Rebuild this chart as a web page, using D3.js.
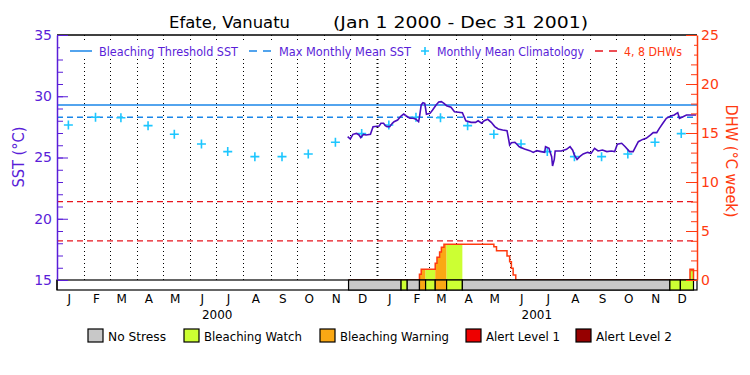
<!DOCTYPE html>
<html>
<head>
<meta charset="utf-8">
<script src="https://cdn.jsdelivr.net/npm/d3@7"></script>
<style>
  body { margin: 0; background: #fff; }
  svg { display: block; }
</style>
</head>
<body>
<svg width="750" height="375"></svg>
<script>
// ---- data ----
const sstDates = ["2000-11-28","2000-12-01","2000-12-04","2000-12-08","2000-12-11","2000-12-13","2000-12-16","2000-12-19","2000-12-24","2000-12-25","2000-12-27",
  "2001-01-03","2001-01-05","2001-01-08","2001-01-10","2001-01-12","2001-01-15","2001-01-18","2001-01-20","2001-01-24","2001-01-28","2001-01-31",
  "2001-02-03","2001-02-07","2001-02-11","2001-02-14","2001-02-17","2001-02-18","2001-02-20","2001-02-22","2001-02-24","2001-02-25","2001-02-26",
  "2001-03-02","2001-03-05","2001-03-09","2001-03-12","2001-03-15","2001-03-18","2001-03-21","2001-03-26","2001-03-30",
  "2001-04-08","2001-04-12","2001-04-18","2001-04-23","2001-04-26","2001-04-30",
  "2001-05-03","2001-05-07","2001-05-11","2001-05-15","2001-05-19","2001-05-24","2001-05-29","2001-05-31",
  "2001-06-01","2001-06-03","2001-06-07","2001-06-09","2001-06-12","2001-06-18","2001-06-24","2001-06-28",
  "2001-07-02","2001-07-07","2001-07-11","2001-07-12","2001-07-16","2001-07-17","2001-07-19","2001-07-20","2001-07-22","2001-07-23","2001-07-30",
  "2001-08-05","2001-08-09","2001-08-12","2001-08-14","2001-08-17","2001-08-20","2001-08-24","2001-08-29",
  "2001-09-02","2001-09-06","2001-09-10","2001-09-15","2001-09-20","2001-09-25","2001-09-29",
  "2001-10-02","2001-10-07","2001-10-11","2001-10-16","2001-10-20","2001-10-23","2001-10-26","2001-10-31",
  "2001-11-04","2001-11-09","2001-11-12","2001-11-16","2001-11-19","2001-11-23","2001-11-27",
  "2001-12-02","2001-12-06","2001-12-10","2001-12-12","2001-12-16","2001-12-20","2001-12-27","2001-12-31"];
const sstValues = [26.70,26.51,26.89,26.97,26.84,26.62,26.89,26.84,26.89,27.11,27.52,
  27.57,27.79,27.79,27.60,27.52,27.52,27.79,27.92,28.06,28.39,28.55,
  28.39,28.20,28.20,28.12,27.92,28.30,29.29,29.47,29.42,29.00,28.53,
  28.60,28.88,29.29,29.53,29.56,29.42,29.23,29.10,28.74,
  28.66,28.00,27.87,27.87,28.00,27.80,
  28.00,28.12,27.87,27.52,27.33,27.24,27.19,26.43,
  26.02,26.21,26.24,26.10,25.88,25.69,25.56,25.42,
  25.56,25.48,25.42,25.88,25.75,25.48,25.07,24.31,24.85,25.53,25.53,
  25.67,25.88,25.60,25.20,24.85,25.07,25.29,25.42,
  25.34,25.75,25.53,25.61,25.48,25.53,25.48,
  26.08,26.16,25.88,25.48,25.48,25.88,26.29,26.48,
  26.57,26.84,27.03,27.03,27.38,27.79,28.20,
  28.39,28.47,28.66,28.20,28.33,28.47,28.47,28.47];

const climYears = [2000, 2001];
const climValues = [27.65, 28.28, 28.25, 27.60, 26.90, 26.10, 25.48, 25.07, 25.07, 25.29, 26.24, 26.95];

const maxMonthlyMean = 28.28;
const bleachThreshold = 29.28;
const dhwRefLines = [4, 8];

const dhwDates = ["2000-11-29","2001-02-18","2001-02-20","2001-03-08","2001-03-10","2001-03-13","2001-03-15","2001-03-18",
  "2001-05-14","2001-05-17","2001-05-29","2001-06-01","2001-06-03","2001-06-05","2001-06-08","2001-12-24","2001-12-28"];
const dhwValues = [0, 0.58, 1.09, 1.70, 2.31, 2.86, 3.33, 3.64,
  3.40, 2.99, 2.45, 1.87, 1.19, 0.51, 0, 1.1, 0];

const stressStart = ["2000-11-29","2001-01-28","2001-02-04","2001-02-18","2001-02-25","2001-03-08","2001-03-21","2001-04-08","2001-12-01","2001-12-13"];
const stressEnd   = ["2001-01-28","2001-02-04","2001-02-18","2001-02-25","2001-03-08","2001-03-21","2001-04-08","2001-12-01","2001-12-13","2001-12-28"];
const stressLevel = [0, 1, 0, 2, 1, 2, 1, 0, 1, 1];

const stressNames = ["No Stress", "Bleaching Watch", "Bleaching Warning", "Alert Level 1", "Alert Level 2"];
const stressColors = ["#c8c8c8", "#ccff33", "#faa814", "#ee0000", "#960000"];

const monthLetters = ["J","F","M","A","M","J","J","A","S","O","N","D"];
const sstTicks = [15, 20, 25, 30, 35];
const dhwTicks = [0, 5, 10, 15, 20, 25];

(function (d3) {
  'use strict';
  const svg = d3.select('svg');
  const parse = d3.utcParse('%Y-%m-%d');
  const FONT = 'DejaVu Sans, sans-serif';
  const sstColor = '#5a1ed8';
  const dhwColor = '#ff3a10';
  const lineBlue = '#1a86e8';
  const climCyan = '#1cc6ff';

  const left = 57, right = 697, top = 35, base = 280, barBottom = 290;

  const x = d3.scaleUtc()
    .domain([new Date(Date.UTC(2000, 0, 1)), new Date(Date.UTC(2002, 0, 1))])
    .range([left, right]);
  const ySst = d3.scaleLinear().domain([15, 35]).range([base, top]);
  const yDhw = d3.scaleLinear().domain([0, 25]).range([base, top]);

  const sst = sstDates.map((d, i) => ({ date: parse(d), value: sstValues[i] }));
  const dhw = dhwDates.map((d, i) => ({ date: parse(d), value: dhwValues[i] }));
  const stress = stressStart.map((d, i) => ({ start: parse(d), end: parse(stressEnd[i]), level: stressLevel[i] }));
  const clim = [];
  climYears.forEach(yr => climValues.forEach((v, m) => clim.push({ date: new Date(Date.UTC(yr, m, 14)), value: v })));

  // title
  svg.append('text').attr('x', 169).attr('y', 28)
    .attr('font-family', FONT).attr('font-size', 16).attr('textLength', 121).attr('lengthAdjust', 'spacingAndGlyphs')
    .text('Efate, Vanuatu');
  svg.append('text').attr('x', 333).attr('y', 28)
    .attr('font-family', FONT).attr('font-size', 16).attr('textLength', 255).attr('lengthAdjust', 'spacingAndGlyphs')
    .text('(Jan 1 2000 - Dec 31 2001)');

  // month dotted grid
  const monthStarts = x.ticks(d3.utcMonth.every(1)).filter(d => +d > +x.domain()[0] && +d < +x.domain()[1]);
  svg.append('g').selectAll('line').data(monthStarts).enter().append('line')
    .attr('x1', d => Math.round(x(d)) + 0.5).attr('x2', d => Math.round(x(d)) + 0.5)
    .attr('y1', top).attr('y2', base)
    .attr('stroke', '#000')
    .attr('stroke-width', d => d.getUTCMonth() === 0 ? 2 : 1)
    .attr('stroke-dasharray', '1,3');

  // reference lines
  svg.append('line').attr('x1', left).attr('x2', right)
    .attr('y1', ySst(bleachThreshold)).attr('y2', ySst(bleachThreshold))
    .attr('stroke', lineBlue).attr('stroke-width', 1.5);
  svg.append('line').attr('x1', left).attr('x2', right)
    .attr('y1', ySst(maxMonthlyMean)).attr('y2', ySst(maxMonthlyMean))
    .attr('stroke', lineBlue).attr('stroke-width', 1.5).attr('stroke-dasharray', '6,4');
  svg.append('g').selectAll('line').data(dhwRefLines).enter().append('line')
    .attr('x1', left).attr('x2', right)
    .attr('y1', d => yDhw(d)).attr('y2', d => yDhw(d))
    .attr('stroke', '#e8141e').attr('stroke-width', 1.2).attr('stroke-dasharray', '6,4');

  // DHW fill coloured by stress level
  const defs = svg.append('defs');
  const area = d3.area().curve(d3.curveStepAfter)
    .x(d => x(d.date)).y0(yDhw(0)).y1(d => yDhw(d.value));
  stress.filter(s => s.level > 0).forEach((s, i) => {
    const id = 'clip' + i;
    defs.append('clipPath').attr('id', id).append('rect')
      .attr('x', x(s.start)).attr('width', x(s.end) - x(s.start))
      .attr('y', top).attr('height', base - top);
    svg.append('path').datum(dhw)
      .attr('clip-path', `url(#${id})`)
      .attr('d', area)
      .attr('fill', stressColors[s.level]);
  });

  // DHW line
  svg.append('path').datum(dhw)
    .attr('d', d3.line().curve(d3.curveStepAfter).x(d => x(d.date)).y(d => yDhw(d.value)))
    .attr('fill', 'none').attr('stroke', dhwColor).attr('stroke-width', 1.5);

  // climatology crosses
  svg.append('g').selectAll('path').data(clim).enter().append('path')
    .attr('d', d => {
      const cx = x(d.date), cy = ySst(d.value);
      return `M${cx - 4.5},${cy}H${cx + 4.5}M${cx},${cy - 4.5}V${cy + 4.5}`;
    })
    .attr('stroke', climCyan).attr('stroke-width', 1.6);

  // SST line
  svg.append('path').datum(sst)
    .attr('d', d3.line().x(d => x(d.date)).y(d => ySst(d.value)))
    .attr('fill', 'none').attr('stroke', '#4b0cbd').attr('stroke-width', 1.6)
    .attr('stroke-linejoin', 'miter');

  // stress bar
  svg.append('rect').attr('x', left).attr('y', base).attr('width', right - left).attr('height', barBottom - base)
    .attr('fill', '#fff').attr('stroke', '#000').attr('stroke-width', 1.2);
  svg.append('g').selectAll('rect').data(stress).enter().append('rect')
    .attr('x', d => x(d.start)).attr('width', d => x(d.end) - x(d.start))
    .attr('y', base).attr('height', barBottom - base)
    .attr('fill', d => stressColors[d.level])
    .attr('stroke', '#000').attr('stroke-width', 1.2);

  // top frame
  svg.append('line').attr('x1', left).attr('x2', right).attr('y1', top).attr('y2', top)
    .attr('stroke', '#000').attr('stroke-width', 1.5);

  // left axis
  const leftMinor = svg.append('g').attr('transform', `translate(${left},0)`).attr('color', sstColor)
    .call(d3.axisLeft(ySst).ticks(20).tickSizeInner(-6).tickSizeOuter(0).tickFormat(''));
  leftMinor.select('.domain').attr('stroke-width', 1.5);
  const leftMajor = svg.append('g').attr('transform', `translate(${left},0)`).attr('color', sstColor)
    .call(d3.axisLeft(ySst).tickValues(sstTicks).tickSizeInner(-11).tickSizeOuter(0).tickPadding(5));
  leftMajor.select('.domain').remove();
  leftMajor.selectAll('text').attr('font-family', FONT).attr('font-size', 14);
  svg.append('line').attr('x1', left).attr('x2', left).attr('y1', base).attr('y2', barBottom)
    .attr('stroke', '#000').attr('stroke-width', 1.2);

  // right axis
  const rightMinor = svg.append('g').attr('transform', `translate(${right},0)`).attr('color', dhwColor)
    .call(d3.axisRight(yDhw).ticks(25).tickSizeInner(-6).tickSizeOuter(0).tickFormat(''));
  rightMinor.select('.domain').attr('stroke-width', 1.5);
  const rightMajor = svg.append('g').attr('transform', `translate(${right},0)`).attr('color', dhwColor)
    .call(d3.axisRight(yDhw).tickValues(dhwTicks).tickSizeInner(-11).tickSizeOuter(0).tickPadding(4));
  rightMajor.select('.domain').remove();
  rightMajor.selectAll('text').attr('font-family', FONT).attr('font-size', 14);

  // axis titles
  svg.append('text').attr('transform', 'translate(24,157) rotate(-90)')
    .attr('text-anchor', 'middle').attr('font-family', FONT).attr('font-size', 15)
    .attr('fill', sstColor).attr('textLength', 61).attr('lengthAdjust', 'spacingAndGlyphs')
    .text('SST (°C)');
  svg.append('text').attr('transform', 'translate(726,161) rotate(90)')
    .attr('text-anchor', 'middle').attr('font-family', FONT).attr('font-size', 15)
    .attr('fill', dhwColor).attr('textLength', 113).attr('lengthAdjust', 'spacingAndGlyphs')
    .text('DHW (°C week)');

  // month and year labels
  const monthMids = [];
  climYears.forEach(yr => monthLetters.forEach((l, m) => monthMids.push({ date: new Date(Date.UTC(yr, m, 15)), label: l })));
  svg.append('g').selectAll('text').data(monthMids).enter().append('text')
    .attr('x', d => x(d.date)).attr('y', 303)
    .attr('text-anchor', 'middle').attr('font-family', FONT).attr('font-size', 12)
    .text(d => d.label);
  svg.append('g').selectAll('text').data(climYears).enter().append('text')
    .attr('x', d => x(new Date(Date.UTC(d, 6, 2)))).attr('y', 319)
    .attr('text-anchor', 'middle').attr('font-family', FONT).attr('font-size', 12)
    .text(d => d);

  // top legend
  const lg = svg.append('g');
  lg.append('rect').attr('x', 60).attr('y', 43).attr('width', 634).attr('height', 15).attr('fill', '#fff');
  lg.append('line').attr('x1', 70).attr('x2', 92).attr('y1', 51).attr('y2', 51)
    .attr('stroke', lineBlue).attr('stroke-width', 1.5);
  lg.append('line').attr('x1', 249).attr('x2', 274).attr('y1', 51).attr('y2', 51)
    .attr('stroke', lineBlue).attr('stroke-width', 1.5).attr('stroke-dasharray', '8,6');
  lg.append('path').attr('d', 'M421,51H429M425,47V55').attr('stroke', climCyan).attr('stroke-width', 1.6);
  lg.append('line').attr('x1', 595).attr('x2', 620).attr('y1', 51).attr('y2', 51)
    .attr('stroke', '#e8141e').attr('stroke-width', 1.5).attr('stroke-dasharray', '8,6');
  const topLegend = [
    { x: 99, w: 139, text: 'Bleaching Threshold SST', color: sstColor },
    { x: 279, w: 132, text: 'Max Monthly Mean SST', color: sstColor },
    { x: 437, w: 147, text: 'Monthly Mean Climatology', color: sstColor },
    { x: 624, w: 58, text: '4, 8 DHWs', color: dhwColor }
  ];
  lg.selectAll('text').data(topLegend).enter().append('text')
    .attr('x', d => d.x).attr('y', 55.5)
    .attr('font-family', FONT).attr('font-size', 12)
    .attr('textLength', d => d.w).attr('lengthAdjust', 'spacingAndGlyphs')
    .attr('fill', d => d.color)
    .text(d => d.text);

  // bottom legend
  const boxX = [88, 184, 320, 466, 576];
  const textW = [58, 98, 109, 74, 76];
  const bl = svg.append('g').selectAll('g').data(stressNames).enter().append('g');
  bl.append('rect').attr('x', (d, i) => boxX[i]).attr('y', 329).attr('width', 15).attr('height', 13)
    .attr('fill', (d, i) => stressColors[i]).attr('stroke', '#000').attr('stroke-width', 1.2);
  bl.append('text').attr('x', (d, i) => boxX[i] + 20).attr('y', 341)
    .attr('font-family', FONT).attr('font-size', 13)
    .attr('textLength', (d, i) => textW[i]).attr('lengthAdjust', 'spacingAndGlyphs')
    .text(d => d);
}(d3));
</script>
</body>
</html>
